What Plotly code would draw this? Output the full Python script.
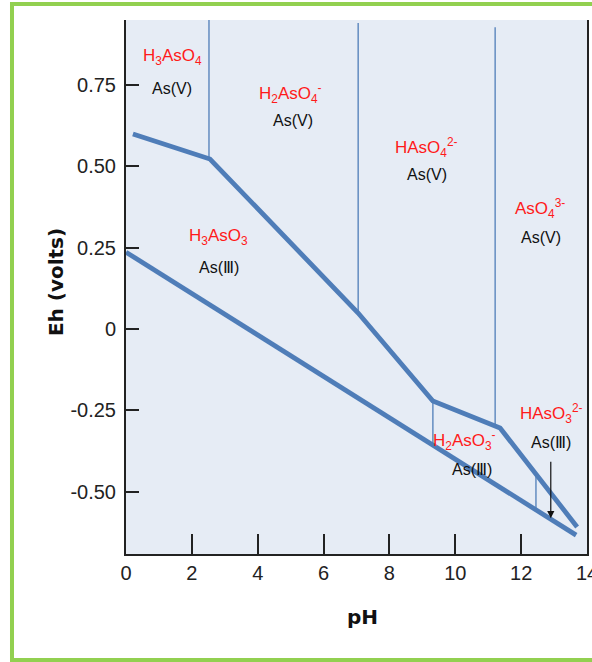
import plotly.graph_objects as go

# ---- data ----
upper_ph = [0.21, 2.55, 7.05, 9.32, 11.36, 13.70]
upper_eh = [0.599, 0.522, 0.049, -0.221, -0.304, -0.608]
lower_ph = [0.0, 13.67]
lower_eh = [0.236, -0.633]

vert_ph = [2.52, 7.05, 11.21, 9.32, 12.45]
vert_eh_top = [0.949, 0.940, 0.927, -0.221, -0.446]
vert_eh_bot = [0.522, 0.049, -0.304, -0.356, -0.555]

species = ["H<sub>3</sub>AsO<sub>4</sub>",
           "H<sub>2</sub>AsO<sub>4</sub><sup>-</sup>",
           "HAsO<sub>4</sub><sup>2-</sup>",
           "AsO<sub>4</sub><sup>3-</sup>",
           "H<sub>3</sub>AsO<sub>3</sub>",
           "H<sub>2</sub>AsO<sub>3</sub><sup>-</sup>",
           "HAsO<sub>3</sub><sup>2-</sup>"]
species_ph = [1.40, 5.01, 9.14, 12.57, 2.82, 10.29, 12.91]
species_eh = [0.835, 0.724, 0.558, 0.371, 0.282, -0.341, -0.258]

states = ["As(V)", "As(V)", "As(V)", "As(V)", "As(Ⅲ)", "As(Ⅲ)", "As(Ⅲ)"]
states_ph = [1.40, 5.07, 9.14, 12.60, 2.82, 10.51, 12.91]
states_eh = [0.740, 0.641, 0.473, 0.282, 0.190, -0.433, -0.350]

arrow_ph = 12.9
arrow_eh = [-0.403, -0.581]

x_ticks = [0, 2, 4, 6, 8, 10, 12, 14]
x_labels = ["0", "2", "4", "6", "8", "10", "12", "14"]
y_ticks = [0.75, 0.5, 0.25, 0, -0.25, -0.5]
y_labels = ["0.75", "0.50", "0.25", "0", "-0.25", "-0.50"]

LINE = "#4f7db8"
TICKFONT = dict(family="Liberation Sans, Arial, sans-serif", size=20, color="#222222")
LABELFONT = "Liberation Sans, Arial, sans-serif"

fig = go.Figure()

fig.add_trace(go.Scatter(x=upper_ph, y=upper_eh, mode="lines",
                         line=dict(color=LINE, width=4.8), hoverinfo="skip",
                         showlegend=False))
fig.add_trace(go.Scatter(x=lower_ph, y=lower_eh, mode="lines",
                         line=dict(color=LINE, width=4.8), hoverinfo="skip",
                         showlegend=False))

for ph, top, bot in zip(vert_ph, vert_eh_top, vert_eh_bot):
    fig.add_trace(go.Scatter(x=[ph, ph], y=[bot, top], mode="lines",
                             line=dict(color=LINE, width=1.3), hoverinfo="skip",
                             showlegend=False))

for txt, x, y in zip(species, species_ph, species_eh):
    fig.add_annotation(x=x, y=y, text=txt, showarrow=False,
                       xanchor="center", yanchor="middle",
                       font=dict(family=LABELFONT, size=17, color="#ff1a1a"))
for txt, x, y in zip(states, states_ph, states_eh):
    fig.add_annotation(x=x, y=y, text=txt, showarrow=False,
                       xanchor="center", yanchor="middle",
                       font=dict(family=LABELFONT, size=16, color="#111111"))

fig.add_annotation(x=arrow_ph, y=arrow_eh[1], ax=arrow_ph, ay=arrow_eh[0],
                   xref="x", yref="y", axref="x", ayref="y", text="",
                   showarrow=True, arrowhead=2, arrowsize=1.2, arrowwidth=1.2,
                   arrowcolor="#111111")

# axis titles
fig.add_annotation(xref="paper", yref="paper", x=0.514, y=-0.118, text="<b>pH</b>",
                   showarrow=False, xanchor="center", yanchor="middle",
                   font=dict(family="DejaVu Sans, Verdana, sans-serif", size=20, color="#111111"))
fig.add_annotation(xref="paper", yref="paper", x=-0.152, y=0.509, text="<b>Eh (volts)</b>",
                   showarrow=False, textangle=-90, xanchor="center", yanchor="middle",
                   font=dict(family="DejaVu Sans, Verdana, sans-serif", size=20, color="#111111"))

# green frame
fig.add_shape(type="rect", xref="paper", yref="paper",
              x0=-0.2473, x1=1.02, y0=-0.1985, y1=1.030,
              line=dict(color="#92d050", width=4), layer="below")

fig.update_xaxes(range=[0, 14], tickmode="array", tickvals=x_ticks, ticktext=x_labels,
                 ticks="inside", ticklen=20, tickwidth=2, tickcolor="#222222",
                 showline=True, linecolor="#222222", linewidth=2,
                 showgrid=False, zeroline=False, tickfont=TICKFONT,
                 ticklabeloverflow="allow", automargin=False)
fig.update_yaxes(range=[-0.691, 0.949], tickmode="array", tickvals=y_ticks, ticktext=y_labels,
                 ticks="inside", ticklen=13, tickwidth=2, tickcolor="#222222",
                 showline=True, linecolor="#222222", linewidth=2, mirror=True,
                 showgrid=False, zeroline=False, tickfont=TICKFONT, ticklabelstandoff=4,
                 automargin=False)

fig.update_layout(width=592, height=662,
                  margin=dict(l=126, r=5, t=20, b=108),
                  plot_bgcolor="#e6ecf5", paper_bgcolor="white",
                  showlegend=False)

fig.write_html("out.html")
